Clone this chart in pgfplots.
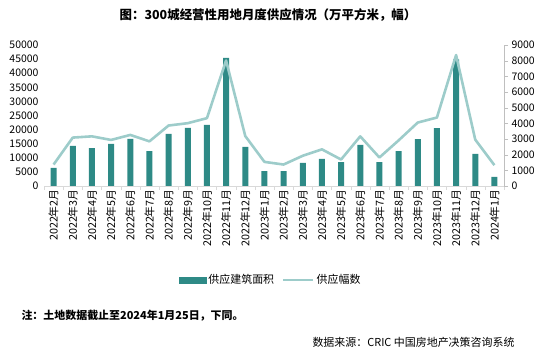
\documentclass[border=0pt]{standalone}
\usepackage{pgfplots}
\pgfplotsset{compat=1.18}
\usepackage{fontspec}
\setmainfont{Noto Sans CJK SC}
\definecolor{barc}{HTML}{2E8A86}
\definecolor{linec}{HTML}{9DCCCA}
\definecolor{axc}{HTML}{BFBFBF}
\begin{document}
\begin{tikzpicture}
\path[use as bounding box] (0,0) rectangle (556bp,354bp);
\node[font=\fontsize{12.5}{14}\selectfont\bfseries] at (268bp,339bp) {图：300城经营性用地月度供应情况（万平方米，幅）};
\begin{axis}[
  at={(44bp,168bp)}, anchor=south west, scale only axis,
  width=460bp, height=141bp,
  xmin=-0.5, xmax=23.5, ymin=0, ymax=50000,
  axis y line*=left, axis x line*=bottom,
  y axis line style={draw=none},
  x axis line style={draw=axc!60, -},
  ytick={0,5000,...,50000},
  ytick style={draw=none},
  scaled y ticks=false,
  /pgf/number format/assume math mode=true,
  /pgf/number format/1000 sep={},
  yticklabel style={font=\fontsize{10.5}{12}\selectfont, xshift=-2bp},
  xtick={0,...,23},
  xticklabels={2022年2月,2022年3月,2022年4月,2022年5月,2022年6月,2022年7月,2022年8月,2022年9月,2022年10月,2022年11月,2022年12月,2023年1月,2023年2月,2023年3月,2023年4月,2023年5月,2023年6月,2023年7月,2023年8月,2023年9月,2023年10月,2023年11月,2023年12月,2024年1月},
  xtick style={draw=none},
  xticklabel style={rotate=90, anchor=east, font=\fontsize{10.8}{12}\selectfont, yshift=0bp},
  extra x ticks={-0.5,0.5,...,23.5},
  extra x tick labels={},
  extra x tick style={tick align=outside, major tick length=4bp, xtick style={draw=axc!60}},
]
\addplot[ybar, bar width=6bp, fill=barc, draw=none] coordinates {
(0,6400) (1,14200) (2,13400) (3,14900) (4,16700) (5,12400) (6,18500) (7,20600) (8,21700) (9,45400) (10,13900) (11,5300)
(12,5300) (13,8200) (14,9600) (15,8500) (16,14600) (17,8500) (18,12400) (19,16600) (20,20500) (21,44900) (22,11400) (23,3200)
};
\end{axis}
\begin{axis}[
  at={(44bp,168bp)}, anchor=south west, scale only axis,
  width=460bp, height=141bp,
  xmin=-0.5, xmax=23.5, ymin=0, ymax=9000,
  axis y line*=right, axis x line=none,
  y axis line style={draw=axc, -},
  ytick={0,1000,...,9000},
  ytick style={draw=axc},
  tick align=outside, major tick length=4bp,
  scaled y ticks=false,
  /pgf/number format/assume math mode=true,
  /pgf/number format/1000 sep={},
  yticklabel style={font=\fontsize{10.5}{12}\selectfont},
  legend style={at={(0.493,-0.667)}, anchor=center, draw=none, fill=none,
    legend columns=2, font=\fontsize{11}{13}\selectfont,
    /tikz/every even column/.append style={column sep=6bp}},
]
\addlegendimage{legend image code/.code={\fill[barc] (0bp,-3bp) rectangle (27bp,3bp);}}
\addlegendentry{供应建筑面积}
\addplot[linec, line width=2.6bp, line join=round, mark=none,
  legend image code/.code={\draw[linec, line width=2.5bp] (0bp,0bp) -- (30bp,0bp);}] coordinates {
(0,1370) (1,3090) (2,3170) (3,2940) (4,3260) (5,2850) (6,3860) (7,4010) (8,4330) (9,8010) (10,3190) (11,1540)
(12,1370) (13,1930) (14,2340) (15,1690) (16,3170) (17,1820) (18,2910) (19,4050) (20,4370) (21,8360) (22,2960) (23,1330)
};
\addlegendentry{供应幅数}
\end{axis}
\node[anchor=west, font=\fontsize{11}{13}\selectfont\bfseries] at (18bp,38bp) {注：土地数据截止至2024年1月25日，下同。};
\node[anchor=east, font=\fontsize{11}{13}\selectfont] at (518bp,12bp) {数据来源：CRIC 中国房地产决策咨询系统};
\end{tikzpicture}
\end{document}
